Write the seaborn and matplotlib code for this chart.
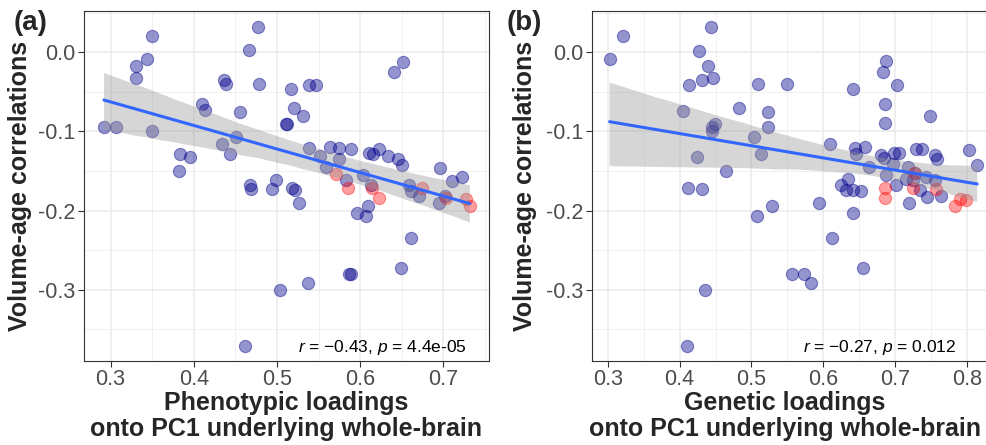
import numpy as np
import matplotlib
matplotlib.use("Agg")
import matplotlib.pyplot as plt
from matplotlib.ticker import MultipleLocator
import seaborn as sns

# (a) phenotypic loadings vs volume-age correlations
pheno_x = [0.292, 0.307, 0.350, 0.344, 0.331, 0.331, 0.350, 0.383, 0.396, 0.382,
           0.410, 0.414, 0.436, 0.439, 0.455, 0.434, 0.443, 0.451, 0.466, 0.468,
           0.469, 0.477, 0.478, 0.499, 0.494, 0.518, 0.522, 0.527, 0.517, 0.538,
           0.547, 0.521, 0.531, 0.511, 0.512, 0.538, 0.552, 0.559, 0.564, 0.575,
           0.589, 0.575, 0.583, 0.604, 0.613, 0.596, 0.609, 0.607, 0.611, 0.615,
           0.623, 0.633, 0.645, 0.650, 0.641, 0.652, 0.659, 0.661, 0.671, 0.696,
           0.710, 0.722, 0.695, 0.702, 0.462, 0.661, 0.649, 0.587, 0.589, 0.537,
           0.504]
pheno_y = [-0.095, -0.095, 0.020, -0.008, -0.018, -0.032, -0.100, -0.129, -0.133, -0.150,
           -0.065, -0.073, -0.035, -0.040, -0.075, -0.116, -0.128, -0.107, 0.003, -0.168,
           -0.173, 0.032, -0.040, -0.162, -0.173, -0.171, -0.174, -0.190, -0.046, -0.041,
           -0.041, -0.070, -0.080, -0.091, -0.091, -0.121, -0.131, -0.145, -0.120, -0.121,
           -0.122, -0.135, -0.162, -0.155, -0.168, -0.203, -0.194, -0.207, -0.127, -0.128,
           -0.122, -0.131, -0.135, -0.143, -0.025, -0.012, -0.168, -0.175, -0.182, -0.146,
           -0.163, -0.158, -0.190, -0.181, -0.371, -0.235, -0.273, -0.280, -0.280, -0.291,
           -0.300]
pheno_red_x = [0.5715, 0.5854, 0.614, 0.623, 0.675, 0.703, 0.727, 0.732]
pheno_red_y = [-0.154, -0.171, -0.171, -0.184, -0.172, -0.184, -0.186, -0.1946]

# (b) genetic loadings vs volume-age correlations
gen_x = [0.3025, 0.3206, 0.4437, 0.4275, 0.439, 0.446, 0.4317, 0.4136, 0.4053, 0.483,
         0.4493, 0.4447, 0.4456, 0.4239, 0.4646, 0.4114, 0.4308, 0.5095, 0.5497, 0.5233,
         0.5233, 0.5035, 0.5128, 0.508, 0.528, 0.5937, 0.609, 0.6414, 0.6414, 0.6437,
         0.646, 0.6576, 0.6253, 0.6322, 0.6344, 0.6414, 0.653, 0.6636, 0.6878, 0.683,
         0.7025, 0.6864, 0.6854, 0.6808, 0.6844, 0.697, 0.698, 0.7053, 0.6878, 0.7017,
         0.7178, 0.7146, 0.7247, 0.7271, 0.7192, 0.7285, 0.7378, 0.734, 0.7447, 0.7424,
         0.7549, 0.7549, 0.758, 0.7479, 0.7642, 0.8035, 0.8142, 0.4354, 0.41, 0.6114,
         0.5558, 0.5733, 0.5826, 0.6553]
gen_y = [-0.008, 0.020, 0.032, 0.002, -0.018, -0.032, -0.035, -0.041, -0.074, -0.070,
         -0.091, -0.095, -0.100, -0.133, -0.150, -0.172, -0.173, -0.040, -0.040, -0.075,
         -0.095, -0.107, -0.129, -0.207, -0.194, -0.190, -0.116, -0.046, -0.203, -0.121,
         -0.128, -0.120, -0.168, -0.174, -0.160, -0.174, -0.175, -0.145, -0.011, -0.025,
         -0.041, -0.065, -0.090, -0.130, -0.134, -0.141, -0.127, -0.127, -0.155, -0.168,
         -0.145, -0.160, -0.162, -0.153, -0.190, -0.122, -0.122, -0.174, -0.183, -0.158,
         -0.162, -0.130, -0.135, -0.080, -0.181, -0.124, -0.143, -0.300, -0.371, -0.235,
         -0.280, -0.280, -0.291, -0.273]
gen_red_x = [0.6854, 0.6854, 0.7261, 0.7247, 0.7572, 0.784, 0.7906, 0.7989]
gen_red_y = [-0.171, -0.184, -0.152, -0.172, -0.173, -0.1946, -0.1857, -0.187]

y_ticks = [-0.3, -0.2, -0.1, 0.0]
y_tick_labels = ["-0.3", "-0.2", "-0.1", "0.0"]
a_x_ticks = [0.3, 0.4, 0.5, 0.6, 0.7]
b_x_ticks = [0.3, 0.4, 0.5, 0.6, 0.7, 0.8]

sns.set_theme(style="whitegrid")
plt.rcParams["font.family"] = ["Liberation Sans", "DejaVu Sans"]
plt.rcParams["mathtext.fontset"] = "custom"
plt.rcParams["mathtext.it"] = "Liberation Sans:italic"
plt.rcParams["mathtext.rm"] = "Liberation Sans"

fig = plt.figure(figsize=(9.87, 4.45), dpi=100)
W, H = 987, 445
ax_a = fig.add_axes([84 / W, (H - 361) / H, 405 / W, 350 / H])
ax_b = fig.add_axes([592 / W, (H - 361) / H, 403 / W, 350 / H])


def panel(ax, bx, by, rx, ry, xlim, xticks, xlabel, xlab_x, note, note_x, ylab_x):
    sns.scatterplot(x=bx, y=by, ax=ax, s=78, color="#00008B", alpha=0.42,
                    edgecolor="#00008B", linewidth=0.8, zorder=2)
    sns.scatterplot(x=rx, y=ry, ax=ax, s=78, color="#FF0000", alpha=0.38,
                    edgecolor="#FF0000", linewidth=0.8, zorder=2)
    all_x = np.array(bx + rx)
    all_y = np.array(by + ry)
    sns.regplot(x=all_x, y=all_y, ax=ax, scatter=False, ci=95, n_boot=2000, seed=3,
                color="#3366FF", line_kws=dict(lw=2.2, zorder=4))
    band = ax.collections[-1]
    band.set_alpha(0.4)
    band.set_facecolor("#999999")
    band.set_edgecolor("none")
    band.set_zorder(3)

    ax.set_xlim(*xlim)
    ax.set_ylim(-0.39, 0.052)
    ax.set_xticks(xticks, labels=[f"{t:.1f}" for t in xticks])
    ax.set_yticks(y_ticks, labels=y_tick_labels)
    ax.xaxis.set_minor_locator(MultipleLocator(0.05))
    ax.yaxis.set_minor_locator(MultipleLocator(0.05))
    ax.grid(which="major", color="#EBEBEB", lw=1.1)
    ax.grid(which="minor", color="#F0F0F0", lw=0.7)
    ax.set_axisbelow(True)
    ax.tick_params(which="major", bottom=True, left=True, length=4, width=0.8,
                   color="#333333", labelsize=15.5, labelcolor="#4D4D4D", pad=2)
    ax.tick_params(which="minor", length=0)
    for sp in ax.spines.values():
        sp.set_color("#333333")
        sp.set_linewidth(0.8)

    ax.set_xlabel(xlabel, fontsize=18, fontweight="bold", linespacing=1.12)
    ax.xaxis.set_label_coords(xlab_x, -0.085)
    ax.set_ylabel("Volume-age correlations", fontsize=18, fontweight="bold")
    ax.yaxis.set_label_coords(ylab_x, 0.5)
    ax.text(note_x, 0.038, note, transform=ax.transAxes, ha="right", va="center",
            fontsize=12.5, color="black")


panel(ax_a, pheno_x, pheno_y, pheno_red_x, pheno_red_y, (0.268, 0.755), a_x_ticks,
      "Phenotypic loadings\nonto PC1 underlying whole-brain", 0.5,
      "$r$ = \u22120.43, $p$ = 4.4e-05", 0.946, -0.128)
panel(ax_b, gen_x, gen_y, gen_red_x, gen_red_y, (0.278, 0.839), b_x_ticks,
      "Genetic loadings\nonto PC1 underlying whole-brain", 0.478,
      "$r$ = \u22120.27, $p$ = 0.012", 0.905, -0.136)

fig.text(14 / W, (H - 30.5) / H, "(a)", fontsize=20, fontweight="bold", va="baseline")
fig.text(507 / W, (H - 30.5) / H, "(b)", fontsize=20, fontweight="bold", va="baseline")

fig.savefig("out.png", dpi=100)
